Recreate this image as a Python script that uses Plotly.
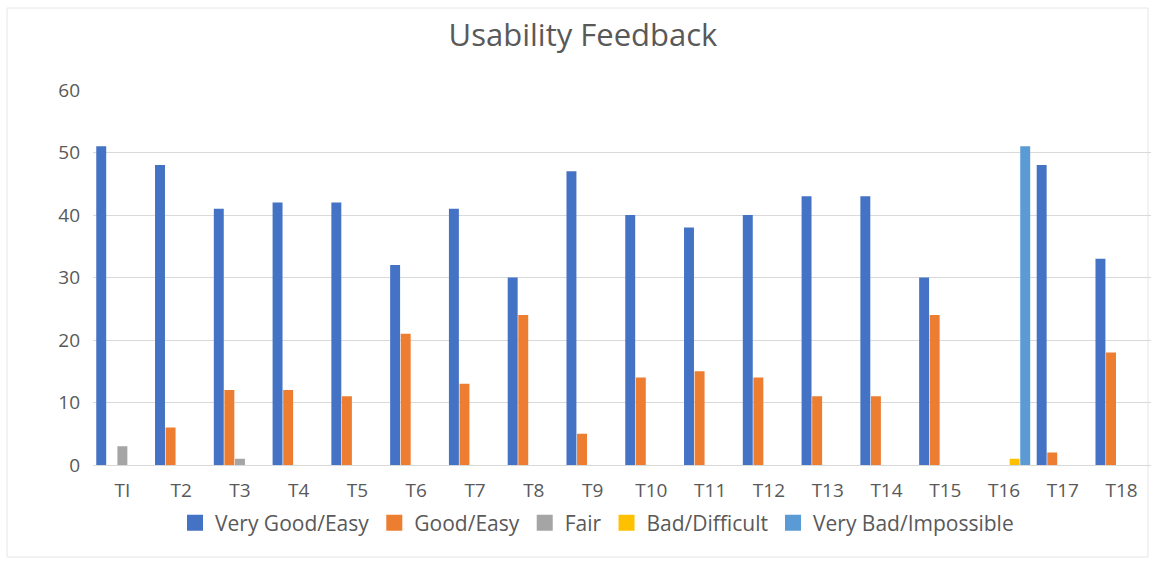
import plotly.graph_objects as go

categories = ["TI", "T2", "T3", "T4", "T5", "T6", "T7", "T8", "T9", "T10",
              "T11", "T12", "T13", "T14", "T15", "T16", "T17", "T18"]
very_good = [51, 48, 41, 42, 42, 32, 41, 30, 47, 40, 38, 40, 43, 43, 30, 0, 48, 33]
good = [0, 6, 12, 12, 11, 21, 13, 24, 5, 14, 15, 14, 11, 11, 24, 0, 2, 18]
fair = [3, 0, 1, 0, 0, 0, 0, 0, 0, 0, 0, 0, 0, 0, 0, 0, 0, 0]
bad = [0, 0, 0, 0, 0, 0, 0, 0, 0, 0, 0, 0, 0, 0, 0, 1, 0, 0]
very_bad = [0, 0, 0, 0, 0, 0, 0, 0, 0, 0, 0, 0, 0, 0, 0, 51, 0, 0]

series = [
    ("Very Good/Easy", very_good, "#4472C4"),
    ("Good/Easy", good, "#ED7D31"),
    ("Fair", fair, "#A5A5A5"),
    ("Bad/Difficult", bad, "#FFC000"),
    ("Very Bad/Impossible", very_bad, "#5B9BD5"),
]

fig = go.Figure()
for name, vals, color in series:
    fig.add_trace(go.Bar(x=categories, y=vals, name=name, marker_color=color,
                         marker_line_width=0, showlegend=False))
# legend entries with larger square swatches
for name, vals, color in series:
    fig.add_trace(go.Scatter(x=[None], y=[None], mode="markers", name=name,
                             marker=dict(symbol="square", size=16, color=color),
                             showlegend=True, hoverinfo="skip"))

W, H = 1151, 561
L, R, T, B = 93, 0, 90, 96
pw, ph = W - L - R, H - T - B

def px_x(x):
    return (x - L) / pw

def px_y(y):
    return (H - B - y) / ph

FONT = "Open Sans, sans-serif"
fig.update_layout(
    width=W, height=H,
    margin=dict(l=L, r=R, t=T, b=B),
    paper_bgcolor="white", plot_bgcolor="white",
    font=dict(family=FONT, color="#595959", size=19),
    title=dict(text="Usability Feedback", x=583 / W, xanchor="center",
               y=1 - 35 / H, yanchor="middle",
               font=dict(size=31, color="#595959")),
    barmode="group", bargap=0.1, bargroupgap=0.06,
    legend=dict(orientation="h", x=px_x(597), xanchor="center",
                y=px_y(523), yanchor="middle",
                font=dict(size=21, color="#595959"),
                itemwidth=30, tracegroupgap=0, itemsizing="trace"),
    xaxis=dict(showgrid=False, showline=False, ticks="",
               tickfont=dict(size=19, color="#595959"),
               ticklabelstandoff=12),
    yaxis=dict(range=[0, 60], dtick=10, showgrid=True, gridcolor="#D9D9D9",
               gridwidth=1, zeroline=True, zerolinecolor="#D9D9D9",
               zerolinewidth=1, showline=False, ticks="",
               tickfont=dict(size=19, color="#595959"),
               ticklabelstandoff=12),
    shapes=[dict(type="rect", xref="paper", yref="paper",
                 x0=px_x(7), x1=px_x(1148), y0=px_y(557), y1=px_y(8),
                 line=dict(color="#E6E6E6", width=1), layer="below")],
)

fig.write_html("out.html", config={"displayModeBar": False},
               post_script="document.body.style.margin='0';"
                           "document.body.style.overflow='hidden';")
